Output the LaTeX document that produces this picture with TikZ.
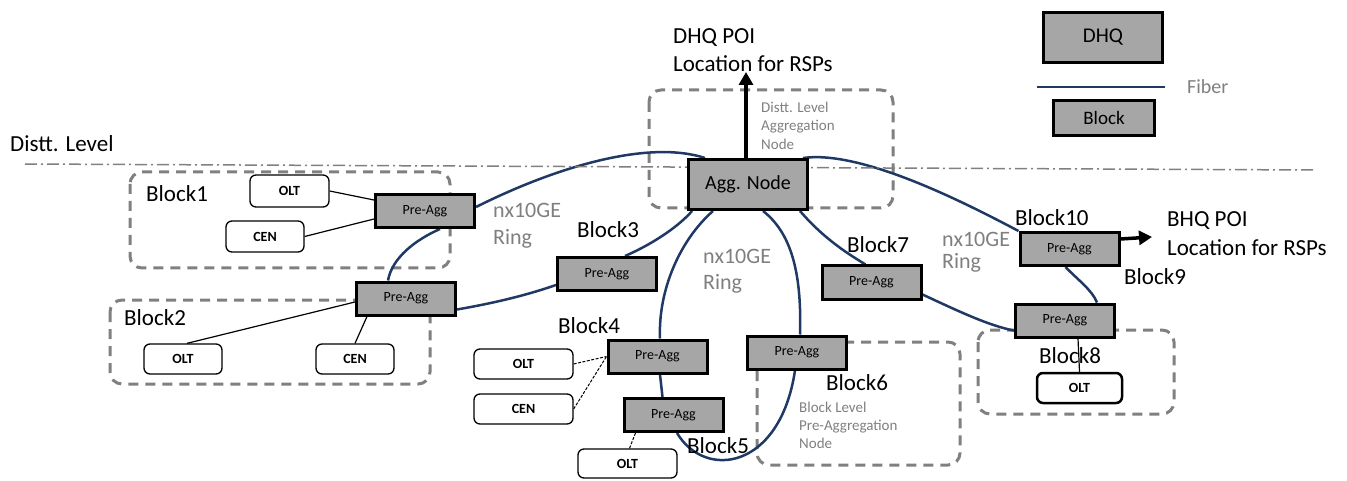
\documentclass[tikz,border=0pt]{standalone}
\usepackage{fontspec}
\setmainfont{Carlito}
\usetikzlibrary{arrows.meta}
\definecolor{fiber}{HTML}{1F3864}
\definecolor{dashgray}{HTML}{808080}
\definecolor{boxgray}{HTML}{A6A6A6}
\definecolor{txtgray}{HTML}{7F7F7F}
\pgfdeclarelayer{bg}
\pgfsetlayers{bg,main}
\tikzset{
 preagg/.style={draw=black, line width=3pt, fill=boxgray, minimum width=99pt, minimum height=33pt, inner sep=0pt, font=\fontsize{14}{14}\selectfont},
 dev/.style={draw=black, line width=1.3pt, rounded corners=6pt, fill=white, inner sep=0pt, font=\bfseries\fontsize{14}{14}\selectfont, minimum height=31pt},
 region/.style={draw=dashgray, line width=3pt, dash pattern=on 10pt off 7pt, rounded corners=12pt},
 fib/.style={draw=fiber, line width=2.5pt},
 link/.style={draw=black, line width=1.2pt},
 dlink/.style={draw=black, line width=1pt, dash pattern=on 3pt off 1.5pt},
 lbl/.style={inner sep=0pt, anchor=base west, font=\fontsize{23}{27}\selectfont},
 glbl/.style={lbl, text=txtgray, font=\fontsize{22}{26}\selectfont},
 small/.style={lbl, text=txtgray, font=\fontsize{15}{18}\selectfont},
 poi/.style={line width=3.5pt, -{Triangle[width=14pt,length=13pt]}}
}
\begin{document}
\begin{tikzpicture}[x=1pt,y=-1pt]
\useasboundingbox (0,0) rectangle (1347,481);

% level line
\coordinate (lvA) at (25,164);
\coordinate (lvB) at (1315,170);
\draw[line width=1.5pt, dashgray, dash pattern=on 12pt off 4pt on 2pt off 4pt] (lvA) -- (lvB);
\node[lbl] (distt) at (10,152) {Distt. Level};

% pre-agg nodes
\node[preagg] (p1) at (425,211) {Pre-Agg};
\node[preagg] (p2) at (406,298.5) {Pre-Agg};
\node[preagg] (p3) at (607,274) {Pre-Agg};
\node[preagg] (p4) at (657.5,356.5) {Pre-Agg};
\node[preagg] (p5) at (673.5,415) {Pre-Agg};
\node[preagg] (p6) at (797,352.5) {Pre-Agg};
\node[preagg] (p7) at (871.5,282.5) {Pre-Agg};
\node[preagg] (p9) at (1065,320.5) {Pre-Agg};
\node[preagg] (p10) at (1069.5,249) {Pre-Agg};
\node[preagg, minimum width=119pt, minimum height=50pt, font=\fontsize{20}{20}\selectfont] (agg) at (748,184.5) {Agg. Node};

% devices
\node[dev, minimum width=79pt, minimum height=32pt] (o1) at (289.5,191) {OLT};
\node[dev, minimum width=78pt] (c1) at (265,236.5) {CEN};
\node[dev, minimum width=78pt, minimum height=30pt] (o2) at (183,359) {OLT};
\node[dev, minimum width=78pt, minimum height=30pt] (c2) at (355,359) {CEN};
\node[dev, minimum width=99pt, minimum height=30pt] (o4) at (523.5,364) {OLT};
\node[dev, minimum width=99pt, minimum height=30pt] (c4) at (523.5,409) {CEN};
\node[dev, minimum width=99pt, minimum height=29pt] (o5) at (627.5,463.5) {OLT};
\node[dev, line width=2.5pt, minimum width=85pt, minimum height=30pt] (o8) at (1079.5,388) {OLT};

% legend
\node[preagg, minimum width=119pt, minimum height=50pt, font=\fontsize{21}{21}\selectfont] (ldhq) at (1103,37.5) {DHQ};
\node[preagg, minimum width=101pt, minimum height=35pt, font=\fontsize{19}{19}\selectfont] (lblock) at (1104,118) {Block};
\coordinate (lfA) at (1037,87);
\coordinate (lfB) at (1165,87);
\draw[fib] (lfA) -- (lfB);
\node[lbl, text=txtgray, font=\fontsize{20}{24}\selectfont] (lfib) at (1187,94) {Fiber};

% labels
\node[lbl] (b1) at (146,202) {Block1};
\node[lbl] (b2) at (124,325) {Block2};
\node[lbl] (b3) at (577,237) {Block3};
\node[lbl] (b4) at (558,333) {Block4};
\node[lbl] (b5) at (687,453) {Block5};
\node[lbl] (b6) at (826,390) {Block6};
\node[lbl] (b7) at (847,252) {Block7};
\node[lbl] (b8) at (1039,363) {Block8};
\node[lbl] (b9) at (1124,284) {Block9};
\node[lbl] (b10) at (1015,226) {Block10};

\node[lbl] (dhq1) at (673,44) {DHQ POI};
\node[lbl] (dhq2) at (673,72) {Location for RSPs};
\node[lbl] (bhq1) at (1167,227) {BHQ POI};
\node[lbl] (bhq2) at (1167,256) {Location for RSPs};

\node[glbl] (r1a) at (493,218) {nx10GE};
\node[glbl] (r1b) at (493,244) {Ring};
\node[glbl] (r2a) at (703,263) {nx10GE};
\node[glbl] (r2b) at (703,290) {Ring};
\node[glbl] (r3a) at (942,247) {nx10GE};
\node[glbl] (r3b) at (942,269) {Ring};

\node[small] (s1) at (761,113) {Distt. Level};
\node[small] (s2) at (761,131) {Aggregation};
\node[small] (s3) at (761,150) {Node};
\node[small] (t1) at (799,412) {Block Level};
\node[small] (t2) at (799,430) {Pre-Aggregation};
\node[small] (t3) at (799,448) {Node};

% POI arrows
\coordinate (dhqtip) at (746,72);
\draw[poi] ([xshift=-2pt]agg.north) -- (dhqtip);
\coordinate (bhqtip) at (1152,237);
\draw[poi] ([yshift=10pt]p10.east) -- (bhqtip);

\begin{pgfonlayer}{bg}
% regions
\draw[region] (130,172) rectangle (450,268);
\draw[region] (110,300) rectangle (430,384);
\draw[region] (649,90) rectangle (893,208);
\draw[region] (757,342) rectangle (960,465);
\draw[region] (978,330) rectangle (1174,414);
% fibers
\draw[fib] ([xshift=15pt]p1.south) .. controls (415,240) and (392,258) .. ([xshift=-18pt]p2.north);
\draw[fib] ([yshift=4pt]p1.east) .. controls (560,165) and (650,140) .. ([xshift=18pt]agg.north west);
\draw[fib] ([yshift=-11pt]p2.east) .. controls (500,302) and (530,294) .. ([yshift=-11pt]p3.west);
\draw[fib] ([xshift=18pt]p3.north) .. controls (655,243) and (680,225) .. ([xshift=5pt]agg.south west);
\draw[fib] ([xshift=-6pt]agg.north east) .. controls (860,150) and (960,200) .. (p10.north west);
\draw[fib] ([xshift=-9pt]agg.south east) .. controls (825,240) and (850,255) .. ([xshift=-6pt]p7.north);
\draw[fib] ([yshift=-12pt]p7.east) .. controls (960,312) and (990,326) .. ([yshift=-10pt]p9.west);
\draw[fib] ([xshift=-4pt]p10.south) .. controls (1078,280) and (1092,290) .. ([xshift=32pt]p9.north);
\draw[fib] ([xshift=-35pt]agg.south) .. controls (680,240) and (658,290) .. ([xshift=2.5pt]p4.north);
\draw[fib] ([xshift=2.5pt]p4.south) -- ([xshift=-11pt]p5.north);
\draw[fib] ([xshift=3.5pt]p5.south) .. controls (705,480) and (780,470) .. ([xshift=-2pt]p6.south);
\draw[fib] ([xshift=3pt]p6.north) .. controls (802,270) and (790,232) .. ([xshift=15pt]agg.south);
% device links
\draw[link] (o1.east) -- ([yshift=11pt]p1.west);
\draw[link] (c1.east) -- ([yshift=-8pt]p1.west);
\draw[link] ([yshift=-3.5pt]p2.west) -- ([xshift=4pt]o2.north);
\draw[link] ([xshift=-39pt]p2.south) -- (c2.north);
\draw[dlink] (o4.east) -- (p4.west);
\draw[dlink] (c4.east) -- (p4.west);
\draw[dlink] ([xshift=-38pt]p5.south) -- ([xshift=2pt]o5.north);
\draw[link] ([xshift=13pt]p9.south) -- (o8.north);
\end{pgfonlayer}
\end{tikzpicture}
\end{document}
